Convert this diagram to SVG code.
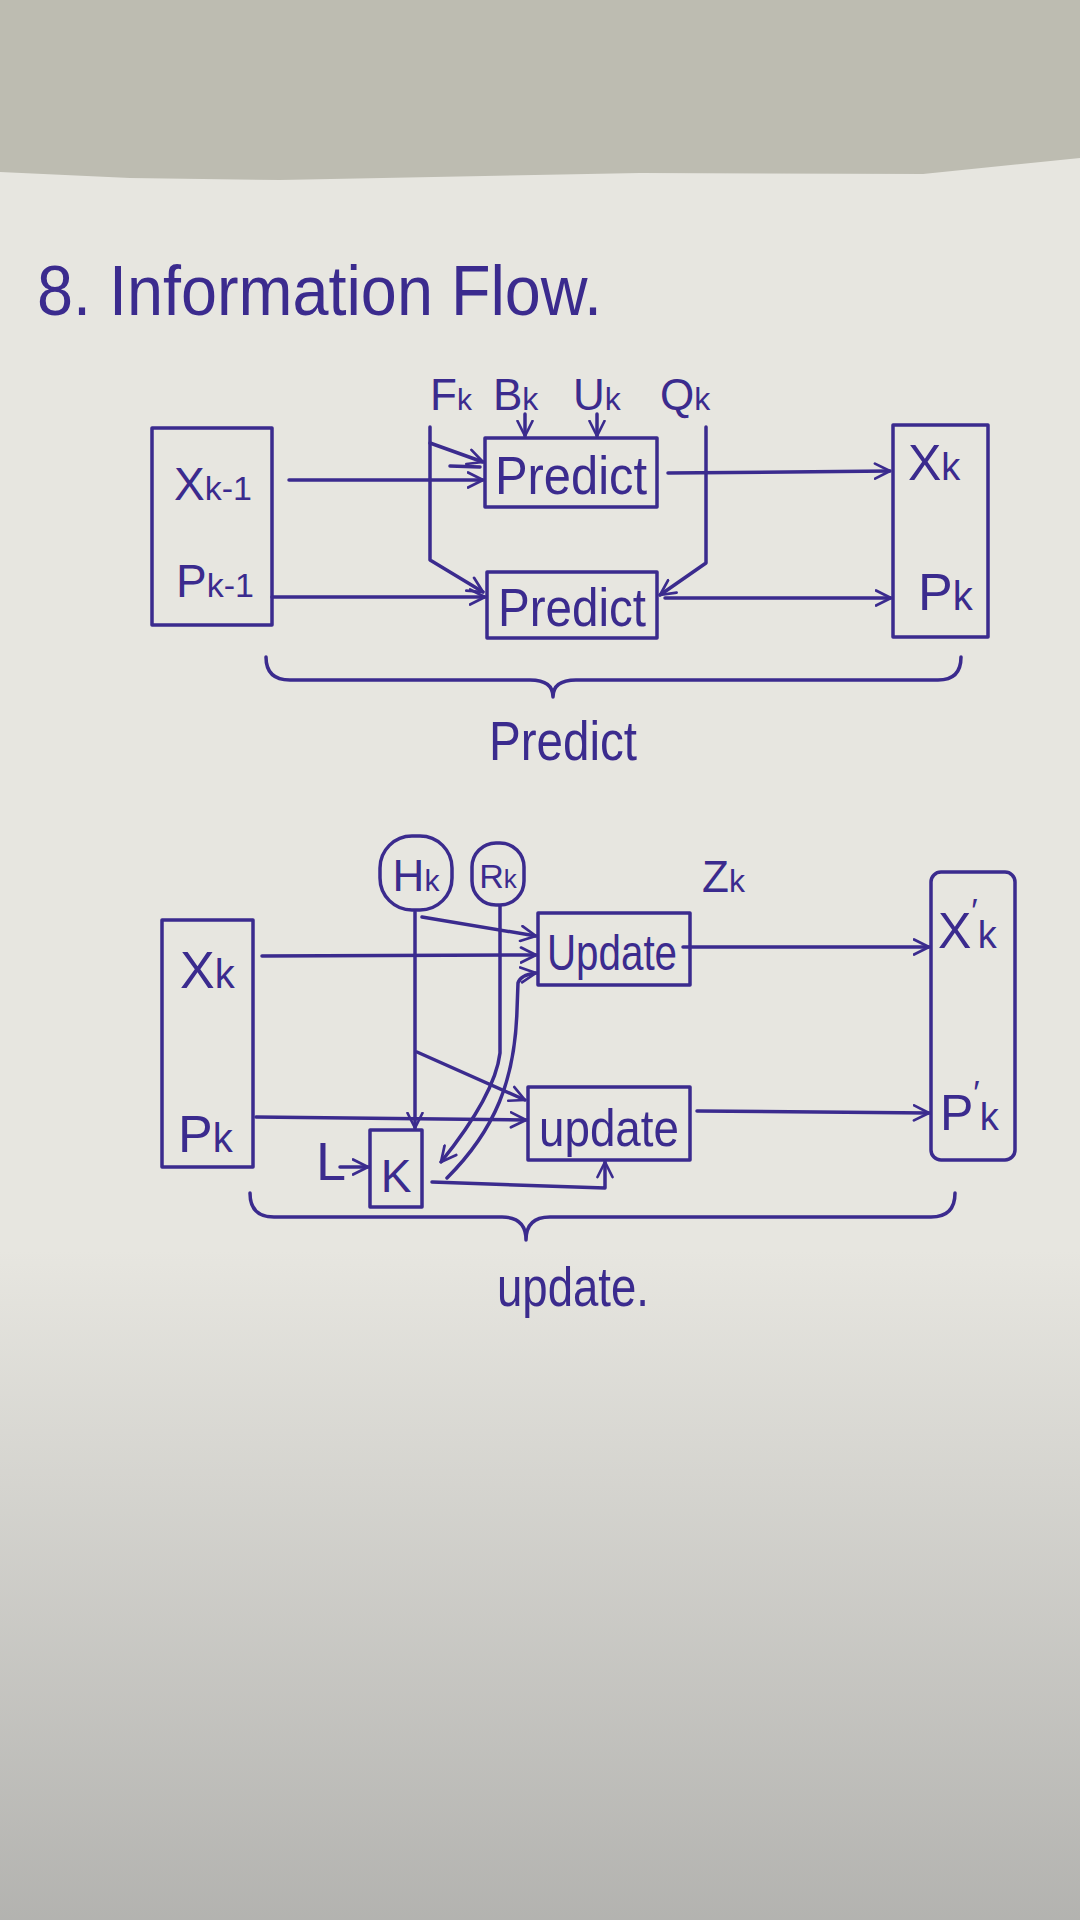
<svg xmlns="http://www.w3.org/2000/svg" width="1080" height="1920" viewBox="0 0 1080 1920">
<defs>
<style>
.ink{stroke:#3b2b8e;fill:none;stroke-width:3.5;stroke-linecap:round;stroke-linejoin:round}
.box{stroke:#3b2b8e;fill:none;stroke-width:3.5;stroke-linejoin:round}
.t{font-family:"Liberation Sans","DejaVu Sans",sans-serif;fill:#3b2b8e}
.arr{marker-end:url(#ah)}
</style>
<marker id="ah" viewBox="0 0 12 12" refX="11" refY="6" markerWidth="18" markerHeight="18" markerUnits="userSpaceOnUse" orient="auto">
<path d="M1,1 L11,6 L1,11" fill="none" stroke="#3b2b8e" stroke-width="1.8" stroke-linecap="round" stroke-linejoin="round"/>
</marker>
<linearGradient id="shade" x1="0" y1="1250" x2="0" y2="1920" gradientUnits="userSpaceOnUse">
<stop offset="0" stop-color="#9d9d9b" stop-opacity="0"/>
<stop offset="1" stop-color="#9d9d9b" stop-opacity="0.7"/>
</linearGradient>
</defs>

<!-- background -->
<rect x="0" y="0" width="1080" height="1920" fill="#bdbcb1"/>
<polygon points="0,172 130,178 280,180 640,173 923,174 1080,158 1080,1920 0,1920" fill="#e7e6e0"/>
<rect x="0" y="1250" width="1080" height="670" fill="url(#shade)"/>

<!-- title -->
<text class="t" x="37" y="315" font-size="70" textLength="565" lengthAdjust="spacingAndGlyphs">8. Information Flow.</text>

<!-- ===== Predict diagram ===== -->
<g id="prev-state">
<rect class="box" x="152" y="428" width="120" height="197"/>
<text class="t" x="174" y="500" font-size="46">X<tspan font-size="34">k-1</tspan></text>
<text class="t" x="176" y="597" font-size="46">P<tspan font-size="34">k-1</tspan></text>
</g>
<g id="label-Fk"><text class="t" x="430" y="410" font-size="44">F<tspan font-size="30">k</tspan></text></g>
<g id="label-Bk"><text class="t" x="493" y="410" font-size="44">B<tspan font-size="32">k</tspan></text></g>
<g id="label-Uk"><text class="t" x="573" y="410" font-size="44">U<tspan font-size="32">k</tspan></text></g>
<g id="label-Qk"><text class="t" x="660" y="410" font-size="44">Q<tspan font-size="32">k</tspan></text></g>
<g id="predict-x">
<rect class="box" x="485" y="438" width="172" height="69"/>
<text class="t" x="571" y="494" font-size="54" text-anchor="middle" textLength="152" lengthAdjust="spacingAndGlyphs">Predict</text>
</g>
<g id="predict-p">
<rect class="box" x="487" y="572" width="170" height="66"/>
<text class="t" x="572" y="626" font-size="54" text-anchor="middle" textLength="148" lengthAdjust="spacingAndGlyphs">Predict</text>
</g>
<g id="new-state">
<rect class="box" x="893" y="425" width="95" height="212"/>
<text class="t" x="908" y="480" font-size="50">X<tspan font-size="38">k</tspan></text>
<text class="t" x="918" y="610" font-size="52">P<tspan font-size="40">k</tspan></text>
</g>
<g id="predict-brace">
<path class="ink" d="M266,657 Q266,680 290,680 L530,680 Q553,680 553,697 Q553,680 576,680 L938,680 Q961,680 961,657"/>
<text class="t" x="563" y="760" font-size="56" text-anchor="middle" textLength="148" lengthAdjust="spacingAndGlyphs">Predict</text>
</g>

<!-- ===== Update diagram ===== -->
<g id="pred-state">
<rect class="box" x="162" y="920" width="91" height="247"/>
<text class="t" x="180" y="988" font-size="52">X<tspan font-size="40">k</tspan></text>
<text class="t" x="178" y="1152" font-size="52">P<tspan font-size="40">k</tspan></text>
</g>
<g id="Hk">
<rect class="box" x="380" y="836" width="72" height="74" rx="32"/>
<text class="t" x="416" y="891" font-size="44" text-anchor="middle">H<tspan font-size="30">k</tspan></text>
</g>
<g id="Rk">
<rect class="box" x="472" y="843" width="52" height="62" rx="24"/>
<text class="t" x="498" y="888" font-size="34" text-anchor="middle">R<tspan font-size="26">k</tspan></text>
</g>
<g id="Zk"><text class="t" x="702" y="892" font-size="44">Z<tspan font-size="32">k</tspan></text></g>
<g id="update-x">
<rect class="box" x="538" y="913" width="152" height="72"/>
<text class="t" x="612" y="970" font-size="50" text-anchor="middle" textLength="130" lengthAdjust="spacingAndGlyphs">Update</text>
</g>
<g id="update-p">
<rect class="box" x="528" y="1087" width="162" height="73"/>
<text class="t" x="609" y="1146" font-size="52" text-anchor="middle" textLength="140" lengthAdjust="spacingAndGlyphs">update</text>
</g>
<g id="gain-K">
<rect class="box" x="370" y="1130" width="52" height="77"/>
<text class="t" x="396" y="1192" font-size="46" text-anchor="middle">K</text>
</g>
<g id="label-L"><text class="t" x="316" y="1180" font-size="54">L</text></g>
<g id="updated-state">
<rect class="box" x="931" y="872" width="84" height="288" rx="10"/>
<text class="t" x="938" y="948" font-size="50">X<tspan font-size="34" dy="-26">′</tspan><tspan font-size="38" dy="26">k</tspan></text>
<text class="t" x="940" y="1130" font-size="50">P<tspan font-size="34" dy="-26">′</tspan><tspan font-size="38" dy="26">k</tspan></text>
</g>
<g id="update-brace">
<path class="ink" d="M250,1193 Q250,1217 274,1217 L502,1217 Q526,1217 526,1240 Q526,1217 550,1217 L931,1217 Q955,1217 955,1193"/>
<text class="t" x="573" y="1306" font-size="56" text-anchor="middle" textLength="152" lengthAdjust="spacingAndGlyphs">update.</text>
</g>

<!-- ===== connectors ===== -->
<g id="connectors">
<!-- predict -->
<path class="ink arr" d="M289,480 L483,480"/>
<path class="ink arr" d="M272,597 L485,597"/>
<path class="ink arr" d="M430,427 L430,560 L483,592"/>
<path class="ink arr" d="M430,443 L483,462"/>
<path class="ink" d="M450,466 L480,467"/>
<path class="ink arr" d="M525,414 L525,436"/>
<path class="ink arr" d="M597,414 L597,436"/>
<path class="ink arr" d="M706,427 L706,563 L660,595"/>
<path class="ink arr" d="M668,473 L890,471"/>
<path class="ink arr" d="M665,598 L891,598"/>
<!-- update -->
<path class="ink arr" d="M262,956 L536,955"/>
<path class="ink arr" d="M256,1117 L526,1120"/>
<path class="ink arr" d="M422,917 L536,936"/>
<path class="ink arr" d="M415,912 L415,1128"/>
<path class="ink arr" d="M417,1052 L525,1100"/>
<path class="ink arr" d="M500,906 L500,1053 Q495,1095 441,1162"/>
<path class="ink arr" d="M447,1178 C495,1130 515,1080 517,1010 L518,983 Q520,975 536,973"/>
<path class="ink arr" d="M340,1167 L368,1167"/>
<path class="ink arr" d="M432,1182 L605,1188 L605,1162"/>
<path class="ink arr" d="M683,947 L929,947"/>
<path class="ink arr" d="M697,1111 L929,1113"/>
</g>
</svg>
